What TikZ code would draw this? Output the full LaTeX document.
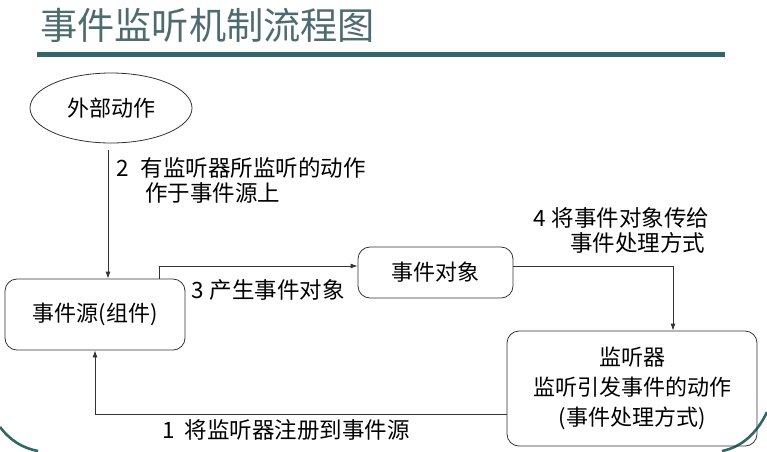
\documentclass[tikz,border=0pt]{standalone}
\usepackage{fontspec}
\setmainfont{Noto Sans CJK SC}
\usetikzlibrary{shapes.geometric,arrows.meta}
\definecolor{teal1}{HTML}{336666}
\definecolor{titlecol}{HTML}{4E6B70}
\definecolor{linecol}{HTML}{333333}
\tikzset{
  txt/.style={font=\fontsize{22.5}{25}\selectfont, inner sep=0pt},
  stepbox/.style={draw=linecol, line width=0.8pt, rounded corners=12pt, inner sep=0pt,
    font=\fontsize{22}{30}\selectfont, align=center},
  oval/.style={draw=linecol, line width=0.8pt, ellipse, inner sep=0pt,
    font=\fontsize{22}{25}\selectfont},
  conn/.style={draw=linecol, line width=0.8pt},
  arr/.style={conn, -{Latex[length=7pt,width=5pt]}},
  deco/.style={draw=teal1, line width=2.6pt},
  lbl/.style={txt, anchor=west},
}
\begin{document}
\begin{tikzpicture}[x=1pt,y=-1pt]
\useasboundingbox (0,0) rectangle (767,451);

% heading and rule
\node[anchor=west, inner sep=0pt, text=titlecol, font=\fontsize{37.2}{40}\selectfont] (title) at (40,25) {事件监听机制流程图};
\fill[teal1] (37,52) rectangle (725,57);

% corner ornaments
\draw[deco] (0,427) .. controls (10,440) and (22,448) .. (38,451);
\draw[deco] (767,412) .. controls (757,433) and (742,447) .. (722,451);

% nodes
\node[oval, minimum width=162pt, minimum height=70pt] (ext) at (111,108) {外部动作};
\node[stepbox, minimum width=180pt, minimum height=71pt] (src) at (95,314.5) {事件源(组件)};
\node[stepbox, minimum width=155pt, minimum height=51pt] (obj) at (435.5,272.5) {事件对象};
\node[stepbox, minimum width=250pt, minimum height=115pt] (lis) at (632,388.5) {监听器\\监听引发事件的动作\\(事件处理方式)};

% routing points
\coordinate (c2) at (108,150);
\coordinate (c3) at (159,266);
\coordinate (c4) at (673,266);
\coordinate (c1) at (95,414);

% connectors
\draw[arr] (c2) -- (c2 |- src.north);
\draw[arr] (c3 |- src.north) -- (c3) -- (c3 -| obj.west);
\draw[arr] (c4 -| obj.east) -- (c4) -- (c4 |- lis.north);
\draw[arr] (c1 -| lis.west) -- (c1) -- (src.south);

% step labels
\node[lbl] (l2a) at (116,168) {2\hspace{12pt}有监听器所监听的动作};
\node[lbl] (l2b) at (145,193) {作于事件源上};
\node[lbl] (l3) at (191,290) {3\hspace{6pt}产生事件对象};
\node[lbl] (l4a) at (533,218) {4\hspace{6pt}将事件对象传给};
\node[lbl] (l4b) at (570,243) {事件处理方式};
\node[lbl] (l1) at (162,430) {1\hspace{10pt}将监听器注册到事件源};
\end{tikzpicture}
\end{document}
